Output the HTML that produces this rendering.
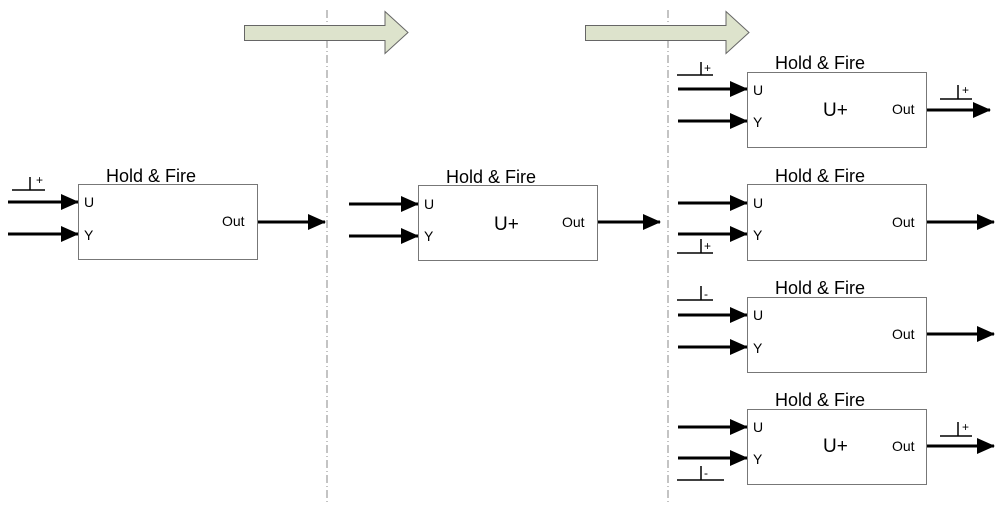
<!DOCTYPE html>
<html><head><meta charset="utf-8"><style>html,body{margin:0;padding:0;background:#fff}svg{display:block}text{font-family:"Liberation Sans",Arial,sans-serif;fill:#000}</style></head>
<body>
<svg width="1000" height="509" viewBox="0 0 1000 509" xmlns="http://www.w3.org/2000/svg">
<defs>
<marker id="ah" markerWidth="18" markerHeight="16" refX="17" refY="8" orient="auto" markerUnits="userSpaceOnUse">
<polygon points="0,0 18,8 0,16" fill="#000"/></marker>
</defs>
<!-- dividers -->
<line x1="327" y1="10" x2="327" y2="502" stroke="#888" stroke-width="1" stroke-dasharray="8,3,1,3"/>
<line x1="668" y1="10" x2="668" y2="502" stroke="#888" stroke-width="1" stroke-dasharray="8,3,1,3"/>
<!-- big arrows -->
<polygon points="244.5,25.5 385,25.5 385,11.5 408,32.5 385,53.5 385,40.5 244.5,40.5" fill="#dde3cc" stroke="#666" stroke-width="1"/>
<polygon points="585.5,25.5 726,25.5 726,11.5 749,32.5 726,53.5 726,40.5 585.5,40.5" fill="#dde3cc" stroke="#666" stroke-width="1"/>

<g stroke="#000" stroke-width="3" marker-end="url(#ah)">
<!-- box1 -->
<line x1="8" y1="202" x2="78" y2="202"/>
<line x1="8" y1="234" x2="78" y2="234"/>
<line x1="258" y1="222" x2="325" y2="222"/>
<!-- box2 -->
<line x1="349" y1="204" x2="418" y2="204"/>
<line x1="349" y1="236" x2="418" y2="236"/>
<line x1="598" y1="222" x2="660" y2="222"/>
<!-- A -->
<line x1="678" y1="89" x2="747" y2="89"/>
<line x1="678" y1="121" x2="747" y2="121"/>
<line x1="927" y1="110" x2="990" y2="110"/>
<!-- B -->
<line x1="678" y1="203" x2="747" y2="203"/>
<line x1="678" y1="234" x2="747" y2="234"/>
<line x1="927" y1="222" x2="994" y2="222"/>
<!-- C -->
<line x1="678" y1="315" x2="747" y2="315"/>
<line x1="678" y1="347" x2="747" y2="347"/>
<line x1="927" y1="334" x2="994" y2="334"/>
<!-- D -->
<line x1="678" y1="427" x2="747" y2="427"/>
<line x1="678" y1="458" x2="747" y2="458"/>
<line x1="927" y1="446" x2="994" y2="446"/>
</g>

<g fill="#fff" stroke="#777" stroke-width="1">
<rect x="78.5" y="184.5" width="179" height="75"/>
<rect x="418.5" y="185.5" width="179" height="75"/>
<rect x="747.5" y="72.5" width="179" height="75"/>
<rect x="747.5" y="184.5" width="179" height="76"/>
<rect x="747.5" y="297.5" width="179" height="75"/>
<rect x="747.5" y="409.5" width="179" height="75"/>
</g>

<!-- pulses -->
<g stroke="#000" stroke-width="1.5" fill="none">
<path d="M12 190H45M30 190V177"/>
<path d="M677 75H713M701 75V62"/>
<path d="M940 99H972M958 99V85"/>
<path d="M677 253H713M701 253V239"/>
<path d="M677 300H713M701 300V286"/>
<path d="M677 480H724M701 480V466"/>
<path d="M940 436H972M958 436V422"/>
</g>
<g font-size="12">
<text x="36" y="184">+</text>
<text x="704" y="72">+</text>
<text x="962" y="94">+</text>
<text x="704" y="250">+</text>
<text x="704" y="298">-</text>
<text x="704" y="477">-</text>
<text x="962" y="431">+</text>
</g>

<g font-size="18">
<text x="106" y="182">Hold &amp; Fire</text>
<text x="446" y="183">Hold &amp; Fire</text>
<text x="775" y="69">Hold &amp; Fire</text>
<text x="775" y="182">Hold &amp; Fire</text>
<text x="775" y="294">Hold &amp; Fire</text>
<text x="775" y="406">Hold &amp; Fire</text>
</g>
<g font-size="19">
<text x="494" y="230">U+</text>
<text x="823" y="116">U+</text>
<text x="823" y="452">U+</text>
</g>
<g font-size="14">
<text x="84" y="207">U</text><text x="84" y="240">Y</text><text x="222" y="226">Out</text>
<text x="424" y="209">U</text><text x="424" y="241">Y</text><text x="562" y="227">Out</text>
<text x="753" y="95">U</text><text x="753" y="127">Y</text><text x="892" y="114">Out</text>
<text x="753" y="208">U</text><text x="753" y="240">Y</text><text x="892" y="227">Out</text>
<text x="753" y="320">U</text><text x="753" y="353">Y</text><text x="892" y="339">Out</text>
<text x="753" y="432">U</text><text x="753" y="464">Y</text><text x="892" y="451">Out</text>
</g>
</svg>
</body></html>
